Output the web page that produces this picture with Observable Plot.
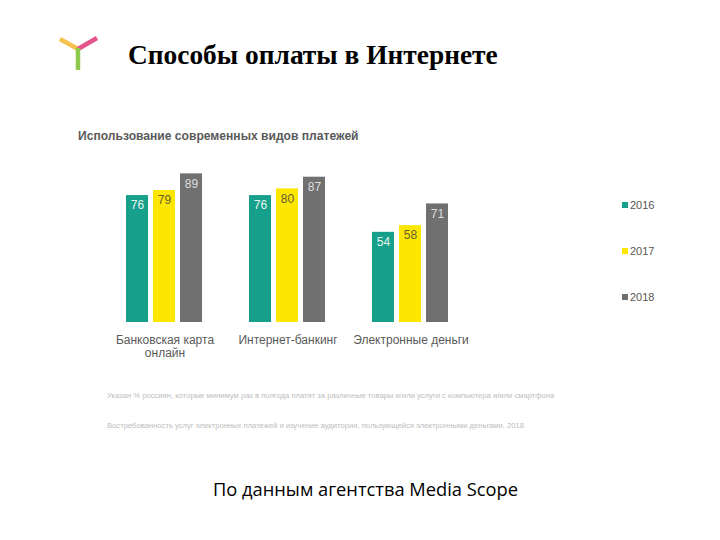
<!DOCTYPE html>
<html>
<head>
<meta charset="utf-8">
<script src="https://cdn.jsdelivr.net/npm/d3@7"></script>
<script src="https://cdn.jsdelivr.net/npm/@observablehq/plot@0.6"></script>
<style>
  html, body { margin: 0; padding: 0; background: #fff; }
  #page { position: relative; width: 720px; height: 540px; overflow: hidden; background: #fff; }
  #chart { position: absolute; left: 0; top: 0; }
  .abs { position: absolute; white-space: nowrap; }
  #title { left: 128px; top: 40px; font-family: "Liberation Serif", serif; font-weight: bold; font-size: 27.4px; color: #000; }
  #subtitle { left: 78px; top: 129px; font-family: "Liberation Sans", Arial, sans-serif; font-weight: bold; font-size: 12.1px; color: #5a5a5a; }
  .note { left: 107px; font-family: "Liberation Sans", Arial, sans-serif; font-size: 7.65px; color: #bdbdbd; }
  #source { left: 213px; top: 476px; font-family: "Open Sans", sans-serif; font-size: 18.3px; color: #000; }
  .leg { left: 622px; font-family: "Liberation Sans", Arial, sans-serif; font-size: 11px; color: #555; display: flex; align-items: center; }
  .leg span.sw { display: inline-block; width: 6px; height: 6px; margin-right: 2px; }
</style>
</head>
<body>
<div id="page">
  <svg class="abs" style="left:0;top:0" width="110" height="80">
    <line x1="60" y1="39" x2="78" y2="49" stroke="#f6c14c" stroke-width="4.5" stroke-linecap="butt"/>
    <line x1="78" y1="49" x2="97" y2="38" stroke="#e2548b" stroke-width="4.5" stroke-linecap="butt"/>
    <line x1="78" y1="48" x2="78" y2="70" stroke="#8ec84c" stroke-width="4.5" stroke-linecap="butt"/>
  </svg>
  <div id="chart"></div>
  <div id="title" class="abs">Способы оплаты в Интернете</div>
  <div id="subtitle" class="abs">Использование современных видов платежей</div>
  <div id="legend"></div>
  <div class="abs note" style="top:391px">Указан % россиян, которые минимум раз в полгода платят за различные товары и/или услуги с компьютера и/или смартфона</div>
  <div class="abs note" style="top:421px">Востребованность услуг электронных платежей и изучение аудитории, пользующейся электронными деньгами, 2018</div>
  <div id="source" class="abs">По данным агентства Media Scope</div>
</div>
<script>
const categories = ["Банковская карта\nонлайн", "Интернет-банкинг", "Электронные деньги"];
const years = ["2016", "2017", "2018"];
const values2016 = [76, 76, 54];
const values2017 = [79, 80, 58];
const values2018 = [89, 87, 71];
const barColors = ["#16a08b", "#fde600", "#707070"];
const labelColors = ["#e6f4f1", "#655f30", "#dedede"];

const series = [values2016, values2017, values2018];
const data = [];
categories.forEach((c, i) => {
  years.forEach((y, j) => data.push({category: c, year: y, value: series[j][i]}));
});

const W = 720, H = 370;
const chart = Plot.plot({
  width: W,
  height: H,
  marginLeft: 126,
  marginRight: W - 450,
  marginTop: 155,
  marginBottom: H - 322,
  style: {background: "transparent", fontFamily: "Liberation Sans, Arial, sans-serif"},
  fx: {domain: categories, paddingInner: 0.371, paddingOuter: 0, label: null, axis: null},
  x: {domain: years, paddingInner: 0.18, paddingOuter: 0, axis: null},
  y: {domain: [0, 100], axis: null},
  color: {domain: years, range: barColors},
  marks: [
    Plot.barY(data, {fx: "category", x: "year", y: "value", fill: "year"}),
    ...years.map((yr, j) => Plot.text(data.filter(d => d.year === yr), {
      fx: "category", x: "year", y: "value", text: d => String(d.value),
      dy: 10, fill: labelColors[j], fontSize: 12, lineAnchor: "middle"
    })),
    Plot.axisFx({anchor: "bottom", tickSize: 0, tickPadding: 12, fontSize: 12, color: "#5a5a5a", lineHeight: 1.1, label: null})
  ]
});
document.getElementById("chart").appendChild(chart);

const legend = document.getElementById("legend");
const legTops = [199, 245, 291];
years.forEach((y, j) => {
  const el = document.createElement("div");
  el.className = "abs leg";
  el.style.top = legTops[j] + "px";
  el.innerHTML = `<span class="sw" style="background:${barColors[j]}"></span>${y}`;
  legend.appendChild(el);
});
</script>
</body>
</html>
